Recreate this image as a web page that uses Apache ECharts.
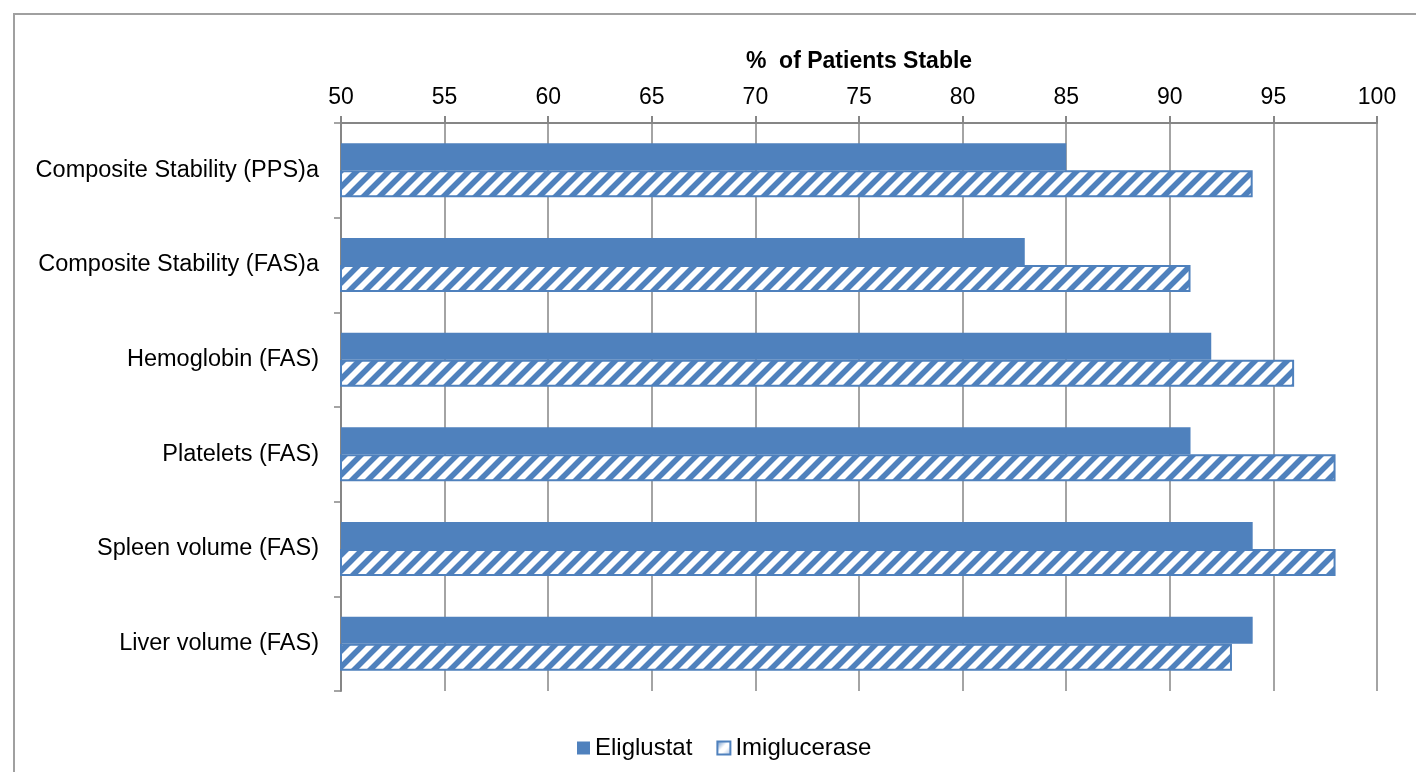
<!DOCTYPE html>
<html>
<head>
<meta charset="utf-8">
<script src="https://cdn.jsdelivr.net/npm/echarts@6/dist/echarts.min.js"></script>
<style>
  html, body { margin: 0; padding: 0; background: #fff; }
  #chart { width: 1416px; height: 772px; }
</style>
</head>
<body>
<div id="chart"></div>
<script>
// Outcome categories, listed top to bottom
const categories = [
  'Composite Stability (PPS)a',
  'Composite Stability (FAS)a',
  'Hemoglobin (FAS)',
  'Platelets (FAS)',
  'Spleen volume (FAS)',
  'Liver volume (FAS)'
];
// % of patients stable per treatment
const eliglustat = [85, 83, 92, 91, 94, 94];
const imiglucerase = [94, 91, 96, 98, 98, 93];
const axisTitle = '%  of Patients Stable';

const BLUE = '#4F81BD';
const GRID_GRAY = '#868686';

// Wide upward-diagonal hatch used for the Imiglucerase bars
function makeHatch() {
  const size = 16;
  const c = document.createElement('canvas');
  c.width = size; c.height = size;
  const ctx = c.getContext('2d');
  ctx.fillStyle = '#ffffff';
  ctx.fillRect(0, 0, size, size);
  ctx.strokeStyle = BLUE;
  ctx.lineWidth = 5.6;
  ctx.lineCap = 'square';
  [-size, 0, size].forEach(function (off) {
    ctx.beginPath();
    ctx.moveTo(off, size);
    ctx.lineTo(off + size, 0);
    ctx.stroke();
  });
  return c;
}
const hatch = makeHatch();

const chart = echarts.init(document.getElementById('chart'), null, { renderer: 'canvas' });

chart.setOption({
  animation: false,
  backgroundColor: '#ffffff',
  textStyle: { fontFamily: 'Liberation Sans, Arial, sans-serif' },
  graphic: [{
    type: 'rect',
    shape: { x: 14, y: 14, width: 1440, height: 800 },
    style: { fill: 'none', stroke: '#a0a0a0', lineWidth: 2 },
    silent: true
  }],
  grid: { left: 341, right: 39, top: 123, bottom: 81 },
  legend: {
    left: 572,
    top: 731,
    itemWidth: 13,
    itemHeight: 13,
    itemGap: 24,
    textStyle: { fontSize: 24, color: '#000' },
    data: [
      { name: 'Eliglustat', icon: 'rect' },
      {
        name: 'Imiglucerase', icon: 'rect',
        itemStyle: {
          color: {
            type: 'linear', x: 0, y: 0, x2: 1, y2: 1,
            colorStops: [
              { offset: 0, color: BLUE },
              { offset: 0.45, color: '#ffffff' },
              { offset: 0.6, color: '#ffffff' },
              { offset: 1, color: '#9db7dc' }
            ]
          },
          borderColor: BLUE,
          borderWidth: 2
        }
      }
    ]
  },
  xAxis: {
    type: 'value',
    position: 'top',
    min: 50,
    max: 100,
    interval: 5,
    name: axisTitle,
    nameLocation: 'middle',
    nameGap: 50,
    nameTextStyle: { fontSize: 23, fontWeight: 'bold', color: '#000' },
    axisLine: { show: true, lineStyle: { color: GRID_GRAY, width: 2 } },
    axisTick: { show: true, length: 7, lineStyle: { color: GRID_GRAY, width: 2 } },
    axisLabel: { fontSize: 23, color: '#000', margin: 14 },
    splitLine: { show: true, lineStyle: { color: GRID_GRAY, width: 1.5 } }
  },
  yAxis: {
    type: 'category',
    data: categories,
    inverse: true,
    axisLine: { show: true, lineStyle: { color: GRID_GRAY, width: 2 } },
    axisTick: { show: true, length: 7, lineStyle: { color: GRID_GRAY, width: 1.5 } },
    axisLabel: { fontSize: 23.5, color: '#000', margin: 22 },
    splitLine: { show: false }
  },
  series: [
    {
      name: 'Eliglustat',
      type: 'bar',
      data: eliglustat,
      barWidth: 27,
      barGap: '0%',
      itemStyle: { color: BLUE }
    },
    {
      name: 'Imiglucerase',
      type: 'bar',
      data: imiglucerase,
      barWidth: 27,
      barGap: '0%',
      itemStyle: {
        color: { image: hatch, repeat: 'repeat' },
        borderColor: BLUE,
        borderWidth: 2
      }
    }
  ]
});
</script>
</body>
</html>
